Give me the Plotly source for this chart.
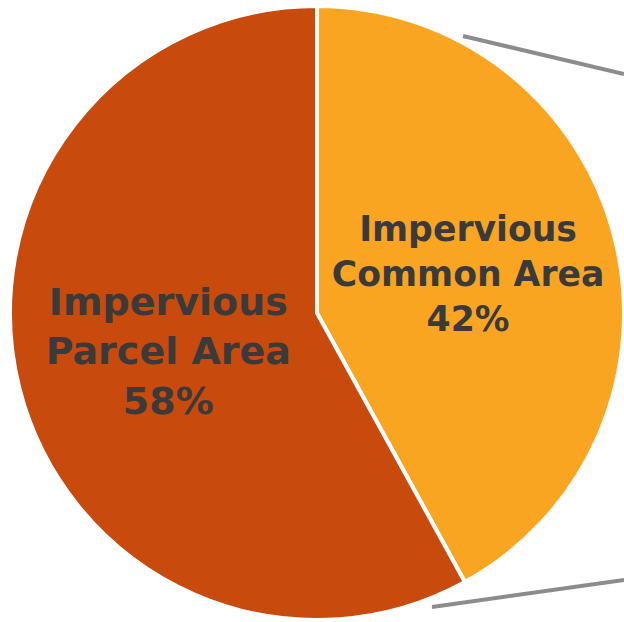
import plotly.graph_objects as go

labels = ["Impervious<br>Common Area", "Impervious<br>Parcel Area"]
values = [42, 58]
colors = ["#FAA521", "#C84A0D"]

fig = go.Figure()
fig.add_trace(go.Pie(
    labels=labels,
    values=values,
    sort=False,
    direction="clockwise",
    rotation=0,
    marker=dict(colors=colors, line=dict(color="white", width=4)),
    texttemplate="<b>%{label}<br>%{percent:.0%}</b>",
    textposition="inside",
    insidetextorientation="horizontal",
    textfont=dict(family="DejaVu Sans", size=38, color="#3A3A3A"),
    hoverinfo="label+percent",
    showlegend=False,
    domain=dict(x=[10/624, 1.0], y=[2/622, 616/622]),
))

# connector lines (bar-of-pie style)
fig.add_shape(type="line", xref="paper", yref="paper",
              x0=463/624, y0=1-36/622, x1=1.0, y1=1-74/622,
              line=dict(color="#8C8C8C", width=4))
fig.add_shape(type="line", xref="paper", yref="paper",
              x0=432/624, y0=1-607/622, x1=1.0, y1=1-580/622,
              line=dict(color="#8C8C8C", width=4))

fig.update_layout(
    width=624, height=622,
    margin=dict(l=0, r=0, t=0, b=0),
    paper_bgcolor="white",
    plot_bgcolor="white",
)
fig.write_html("out.html", config={"displayModeBar": False},
               post_script="document.body.style.margin='0';")
